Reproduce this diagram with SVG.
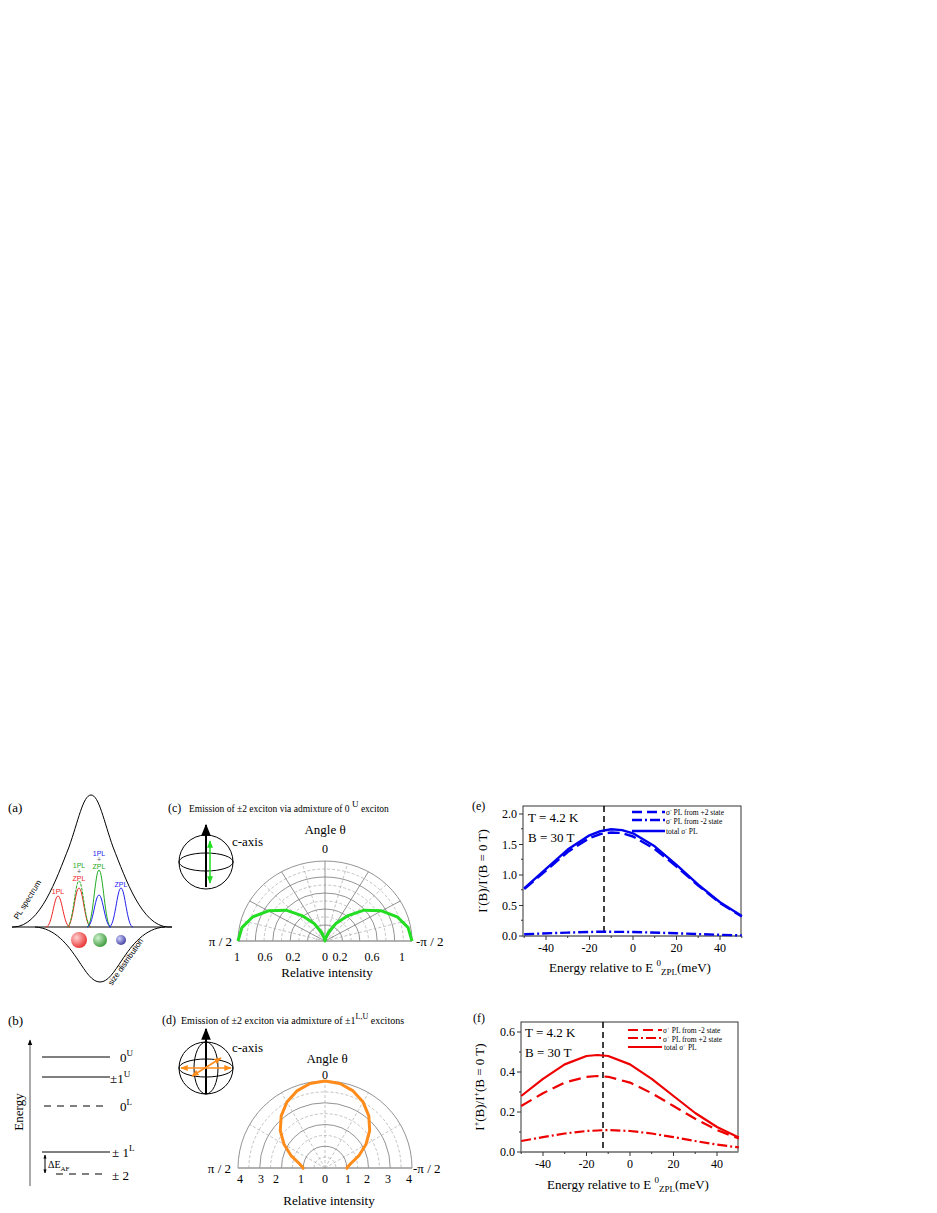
<svg xmlns="http://www.w3.org/2000/svg" width="937" height="1213" viewBox="0 0 937 1213">
<style>
text{font-family:"Liberation Serif","Times New Roman",serif;fill:#000}
.sans{font-family:"Liberation Sans",Arial,sans-serif}
.k{fill:none;stroke:#000;stroke-width:1}
.g{fill:none;stroke:#777;stroke-width:0.8}
.gd{fill:none;stroke:#aaa;stroke-width:0.7;stroke-dasharray:3 2}
.ax{fill:none;stroke:#333;stroke-width:1}
.blue{fill:none;stroke:#0000ee;stroke-width:2.4;stroke-linejoin:round}
.red{fill:none;stroke:#ee0000;stroke-width:2.2;stroke-linejoin:round}
.cr{fill:#ee2222}.cg{fill:#22aa22}.cb{fill:#2222ee}.cx{fill:#555}
</style>
<defs>
<radialGradient id="gr" cx="0.35" cy="0.35" r="0.7"><stop offset="0" stop-color="#ffd0d0"/><stop offset="1" stop-color="#e83030"/></radialGradient>
<radialGradient id="gg" cx="0.35" cy="0.35" r="0.7"><stop offset="0" stop-color="#d0f0d0"/><stop offset="1" stop-color="#3a9a3a"/></radialGradient>
<radialGradient id="gb" cx="0.35" cy="0.35" r="0.7"><stop offset="0" stop-color="#d0d0ff"/><stop offset="1" stop-color="#4040a0"/></radialGradient>
<marker id="ab" viewBox="0 0 10 10" refX="9" refY="5" markerWidth="6" markerHeight="8" orient="auto"><path d="M0,1 L10,5 L0,9z" fill="#000"/></marker>
<marker id="ag" viewBox="0 0 10 10" refX="9" refY="5" markerWidth="5" markerHeight="5" orient="auto-start-reverse"><path d="M0,1 L10,5 L0,9z" fill="#22dd22"/></marker>
<marker id="ao" viewBox="0 0 10 10" refX="9" refY="5" markerWidth="5" markerHeight="5" orient="auto-start-reverse"><path d="M0,1 L10,5 L0,9z" fill="#ff8c1a"/></marker>
<marker id="ak" viewBox="0 0 10 10" refX="9" refY="5" markerWidth="4" markerHeight="4" orient="auto-start-reverse"><path d="M0,1 L10,5 L0,9z" fill="#000"/></marker>
</defs>

<g id="panel-a">
<text x="8" y="812" font-size="13">(a)</text>
<path class="k" d="M12,927 L14,927 C40,926 56,880 69,847 C78,822 83,795 91,795 C99,795 104,822 113,847 C126,880 142,926 168,927 L172,927"/>
<path class="k" d="M35,927 C55,928 68,945 78,960 C86,972 92,982 100,982 C108,982 114,972 122,960 C132,945 145,928 165,927"/>
<line class="k" x1="12" y1="927" x2="172" y2="927"/>
<path d="M46,927 C52,927 54,896 58,896 C62,896 64,927 70,927" fill="none" stroke="#ee2222"/>
<path d="M67,927 C73,927 75,888 79,888 C83,888 85,927 91,927" fill="none" stroke="#ee2222"/>
<path d="M67,927 C73,927 75,881 79,881 C83,881 85,927 91,927" fill="none" stroke="#22aa22" stroke-dasharray="3 1"/>
<path d="M87,927 C93,927 95,870 99,870 C103,870 105,927 111,927" fill="none" stroke="#22aa22"/>
<path d="M87,927 C93,927 95,895 99,895 C103,895 105,927 111,927" fill="none" stroke="#2222ee"/>
<path d="M109,927 C115,927 117,888 121,888 C125,888 127,927 133,927" fill="none" stroke="#2222ee"/>
<g font-size="7" text-anchor="middle">
<text x="58" y="894" class="sans cr">1PL</text>
<text x="79" y="868" class="sans cg">1PL</text>
<text x="79" y="874" class="sans cx">+</text>
<text x="79" y="881" class="sans cr">ZPL</text>
<text x="99" y="856" class="sans cb">1PL</text>
<text x="99" y="862" class="sans cx">+</text>
<text x="99" y="869" class="sans cg">ZPL</text>
<text x="121" y="887" class="sans cb">ZPL</text>
</g>
<text class="sans" font-size="8" transform="translate(18,920) rotate(-58)">PL spectrum</text>
<text class="sans" font-size="8" transform="translate(112,986) rotate(-55)">size distribution</text>
<circle cx="79" cy="940" r="8" fill="url(#gr)"/>
<circle cx="100" cy="940" r="7" fill="url(#gg)"/>
<circle cx="121" cy="940" r="5" fill="url(#gb)"/>
</g>

<g id="panel-b">
<text x="8" y="1025" font-size="13">(b)</text>
<line x1="30" y1="1186" x2="30" y2="1040" stroke="#555" marker-end="url(#ab)"/>
<text transform="translate(23,1112) rotate(-90)" font-size="13" text-anchor="middle">Energy</text>
<line class="k" x1="42" y1="1057" x2="110" y2="1057" stroke-width="1.3"/>
<line class="k" x1="42" y1="1077" x2="110" y2="1077" stroke-width="1.3"/>
<line class="k" x1="44" y1="1106" x2="108" y2="1106" stroke-width="1.3" stroke-dasharray="7 6"/>
<line class="k" x1="42" y1="1152" x2="110" y2="1152" stroke-width="1.3"/>
<line class="k" x1="56" y1="1174" x2="108" y2="1174" stroke-width="1.3" stroke-dasharray="7 6"/>
<line class="k" x1="45" y1="1155" x2="45" y2="1173" marker-start="url(#ak)" marker-end="url(#ak)"/>
<text x="48" y="1168" font-size="10">ΔE<tspan font-size="7" dy="3">AF</tspan></text>
<text x="120" y="1062" font-size="13">0<tspan font-size="9" dy="-6">U</tspan></text>
<text x="110" y="1083" font-size="13">±1<tspan font-size="9" dy="-6">U</tspan></text>
<text x="120" y="1111" font-size="13">0<tspan font-size="9" dy="-6">L</tspan></text>
<text x="112" y="1157" font-size="13">± 1<tspan font-size="9" dy="-6">L</tspan></text>
<text x="112" y="1180" font-size="13">± 2</text>
</g>

<g id="panel-c">
<text x="168" y="812" font-size="12">(c)</text>
<text x="189" y="812" font-size="9.5">Emission of  ±2 exciton via admixture of 0 <tspan font-size="9" dy="-5">U</tspan><tspan dy="5"> exciton</tspan></text>
<ellipse class="k" cx="206" cy="862" rx="27" ry="27" stroke="#444" stroke-width="0.8"/>
<ellipse class="k" cx="206" cy="862" rx="27" ry="9" stroke="#444" stroke-width="0.8"/>
<line x1="206" y1="887" x2="206" y2="825" stroke="#000" stroke-width="2" marker-end="url(#ab)"/>
<line x1="210" y1="841" x2="210" y2="883" stroke="#22dd22" stroke-width="1.5" marker-start="url(#ag)" marker-end="url(#ag)"/>
<text x="232" y="846" font-size="13">c-axis</text>
<text x="325" y="834" font-size="13" text-anchor="middle">Angle θ</text>
<text x="325" y="853" font-size="12" text-anchor="middle">0</text>
<g>
<path class="gd" d="M316.3,941 A8.7,8 0 0 1 333.7,941 M298.9,941 A26.1,24 0 0 1 351.1,941 M281.5,941 A43.5,40 0 0 1 368.5,941 M264.1,941 A60.9,56 0 0 1 385.9,941 M246.7,941 A78.3,72 0 0 1 403.3,941"/>
<path class="g" d="M307.6,941 A17.4,16 0 0 1 342.4,941 M290.2,941 A34.8,32 0 0 1 359.8,941 M272.8,941 A52.2,48 0 0 1 377.2,941 M255.4,941 A69.6,64 0 0 1 394.6,941 M238,941 A87,80 0 0 1 412,941"/>
<path class="g" d="M325,941 L249.7,901 M325,941 L281.5,871.7 M325,941 L325,861 M325,941 L368.5,871.7 M325,941 L400.3,901"/>
<path class="gd" d="M325,941 L241,920.3 M325,941 L263.5,884.4 M325,941 L302.5,863.7 M325,941 L347.5,863.7 M325,941 L386.5,884.4 M325,941 L409,920.3"/>
<line x1="238" y1="941" x2="412" y2="941" stroke="#999" stroke-width="1.5"/>
</g>
<polyline fill="none" stroke="#22dd22" stroke-width="3" stroke-linejoin="round" points="238,941 241.9,927.6 252.8,916.8 268.5,910.8 285.9,910.2 301.9,915.6 314.1,923.6 321.5,932.2 324.5,938.6 325,941 325.5,938.6 328.5,932.2 335.9,923.6 348.1,915.6 364.1,910.2 381.5,910.8 397.2,916.8 408.1,927.6 412,941"/>
<text x="232" y="946" font-size="13" text-anchor="end">π / 2</text>
<text x="416" y="946" font-size="13">-π / 2</text>
<g font-size="12" text-anchor="middle">
<text x="237" y="961">1</text><text x="265" y="961">0.6</text><text x="293" y="961">0.2</text><text x="325" y="961">0</text><text x="340" y="961">0.2</text><text x="372" y="961">0.6</text><text x="402" y="961">1</text>
</g>
<text x="327" y="977" font-size="13" text-anchor="middle">Relative intensity</text>
</g>

<g id="panel-d">
<text x="162" y="1024" font-size="12">(d)</text>
<text x="181" y="1024" font-size="10">Emission of  ±2 exciton via admixture of   ±1<tspan font-size="8" dy="-5">L,U</tspan><tspan dy="5"> excitons</tspan></text>
<ellipse class="k" cx="206" cy="1068" rx="27" ry="26" stroke="#444" stroke-width="0.8"/>
<ellipse class="k" cx="206" cy="1068" rx="27" ry="9" stroke="#444" stroke-width="0.8"/>
<ellipse class="k" cx="206" cy="1068" rx="12" ry="26" stroke="#444" stroke-width="0.8"/>
<line x1="206" y1="1094" x2="206" y2="1029" stroke="#000" stroke-width="2" marker-end="url(#ab)"/>
<line x1="181" y1="1068" x2="231" y2="1068" stroke="#ff8c1a" stroke-width="1.5" marker-start="url(#ao)" marker-end="url(#ao)"/>
<line x1="192" y1="1076" x2="221" y2="1058" stroke="#ff8c1a" stroke-width="1.5" marker-start="url(#ao)" marker-end="url(#ao)"/>
<text x="232" y="1052" font-size="13">c-axis</text>
<text x="327" y="1063" font-size="13" text-anchor="middle">Angle θ</text>
<text x="325" y="1079" font-size="12" text-anchor="middle">0</text>
<path class="gd" d="M314.1,1168 A10.9,10.9 0 0 1 335.9,1168 M292.4,1168 A32.6,32.6 0 0 1 357.6,1168 M270.6,1168 A54.4,54.4 0 0 1 379.4,1168 M248.9,1168 A76.1,76.1 0 0 1 401.1,1168"/>
<path class="g" d="M303.25,1168 A21.75,21.75 0 0 1 346.75,1168 M281.5,1168 A43.5,43.5 0 0 1 368.5,1168 M259.75,1168 A65.25,65.25 0 0 1 390.25,1168 M238,1168 A87,87 0 0 1 412,1168"/>
<path class="gd" d="M325,1168 L249.7,1124.5 M325,1168 L281.5,1092.7 M325,1168 L325,1081 M325,1168 L368.5,1092.7 M325,1168 L400.3,1124.5"/>
<line x1="238" y1="1168" x2="412" y2="1168" stroke="#999" stroke-width="1.5"/>
<polyline fill="none" stroke="#ff8c1a" stroke-width="3" stroke-linejoin="round" points="302,1169 303.25,1168 299.2,1163.5 291.1,1155.7 284,1144.3 280.3,1130.5 281.2,1115.8 286.9,1102.1 296.9,1090.9 310.1,1083.5 325,1081 339.9,1083.5 353.1,1090.9 363.1,1102.1 368.8,1115.8 369.7,1130.5 366,1144.3 358.9,1155.7 350.8,1163.5 346.75,1168 348,1169"/>
<text x="231" y="1173" font-size="13" text-anchor="end">π / 2</text>
<text x="413" y="1173" font-size="13">-π / 2</text>
<g font-size="12" text-anchor="middle">
<text x="240" y="1183">4</text><text x="261" y="1183">3</text><text x="276" y="1183">2</text><text x="301" y="1183">1</text><text x="325" y="1183">0</text><text x="348" y="1183">1</text><text x="367" y="1183">2</text><text x="388" y="1183">3</text><text x="409" y="1183">4</text>
</g>
<text x="329" y="1205" font-size="13" text-anchor="middle">Relative intensity</text>
</g>

<g id="panel-e">
<text x="472" y="810" font-size="12">(e)</text>
<rect x="523" y="806" width="218" height="130" fill="none" stroke="#333"/>
<line x1="523" y1="936" x2="741" y2="936" stroke="#888" stroke-width="1.5"/>
<path class="ax" d="M523,936h-4 M523,905.5h-4 M523,875h-4 M523,844.5h-4 M523,814h-4 M523,920.25h-2 M523,889.75h-2 M523,859.25h-2 M523,828.75h-2 M546,936v4 M589.5,936v4 M633,936v4 M676.5,936v4 M720,936v4 M524.2,936v2 M567.7,936v2 M611.2,936v2 M654.7,936v2 M698.2,936v2 M741.8,936v2"/>
<g font-size="12" text-anchor="end">
<text x="517" y="940">0.0</text><text x="517" y="910">0.5</text><text x="517" y="879">1.0</text><text x="517" y="849">1.5</text><text x="517" y="818">2.0</text>
</g>
<g font-size="12" text-anchor="middle">
<text x="546" y="952">-40</text><text x="589.5" y="952">-20</text><text x="633" y="952">0</text><text x="676.5" y="952">20</text><text x="720" y="952">40</text>
</g>
<text x="630" y="972" font-size="13" text-anchor="middle">Energy relative to E <tspan font-size="9" dy="-6">0</tspan><tspan font-size="9" dy="9">ZPL</tspan><tspan dy="-3">(meV)</tspan></text>
<text transform="translate(487,871) rotate(-90)" font-size="13" text-anchor="middle">I<tspan font-size="8" dy="-5">-</tspan><tspan dy="5">(B)/I</tspan><tspan font-size="8" dy="-5">-</tspan><tspan dy="5">(B = 0 T)</tspan></text>
<line x1="604" y1="806" x2="604" y2="936" stroke="#000" stroke-width="1.5" stroke-dasharray="6 4"/>
<polyline class="blue" points="524.2,888.4 546,868.8 567.7,849.6 589.5,835.3 600.4,831.1 611.2,829.3 622.1,830.1 633,833.3 654.7,846.3 676.5,864.8 698.2,884.6 720,902.3 741.8,915.9"/>
<polyline class="blue" stroke-dasharray="12 5" points="524.2,889 546,870.5 567.7,852 589.5,838 600.4,834 611.2,832.5 622.1,833 633,836.5 654.7,849 676.5,866.5 698.2,885.5 720,903 741.8,916.5"/>
<polyline class="blue" stroke-dasharray="10 3 2 3" points="524.2,934.2 567.7,932.6 600.4,931.7 633,932 676.5,933.3 720,934.8 741.8,935.4"/>
<line class="blue" x1="632" y1="812" x2="665" y2="812" stroke-dasharray="10 5"/>
<line class="blue" x1="632" y1="820" x2="665" y2="820" stroke-dasharray="10 3 2 3"/>
<line class="blue" x1="632" y1="831" x2="665" y2="831"/>
<text x="666" y="815" font-size="7.5">σ<tspan font-size="5" dy="-3">-</tspan><tspan dy="3"> PL from +2 state</tspan></text>
<text x="666" y="824" font-size="7.5">σ<tspan font-size="5" dy="-3">-</tspan><tspan dy="3"> PL from -2 state</tspan></text>
<text x="666" y="834" font-size="7.5">total σ<tspan font-size="5" dy="-3">-</tspan><tspan dy="3">  PL</tspan></text>
<text x="528" y="822" font-size="13">T = 4.2 K</text>
<text x="528" y="842" font-size="13">B = 30 T</text>
</g>

<g id="panel-f">
<text x="473" y="1022" font-size="12">(f)</text>
<rect x="521" y="1022" width="217" height="130" fill="none" stroke="#333"/>
<line x1="521" y1="1152" x2="738" y2="1152" stroke="#888" stroke-width="1.5"/>
<path class="ax" d="M521,1152h-4 M521,1112h-4 M521,1072h-4 M521,1032h-4 M521,1132h-2 M521,1092h-2 M521,1052h-2 M543,1152v4 M586.5,1152v4 M630,1152v4 M673.5,1152v4 M717,1152v4 M521.2,1152v2 M564.7,1152v2 M608.2,1152v2 M651.7,1152v2 M695.2,1152v2"/>
<g font-size="12" text-anchor="end">
<text x="515" y="1156">0.0</text><text x="515" y="1116">0.2</text><text x="515" y="1076">0.4</text><text x="515" y="1036">0.6</text>
</g>
<g font-size="12" text-anchor="middle">
<text x="543" y="1168">-40</text><text x="586.5" y="1168">-20</text><text x="630" y="1168">0</text><text x="673.5" y="1168">20</text><text x="717" y="1168">40</text>
</g>
<text x="628" y="1189" font-size="13" text-anchor="middle">Energy relative to E <tspan font-size="9" dy="-6">0</tspan><tspan font-size="9" dy="9">ZPL</tspan><tspan dy="-3">(meV)</tspan></text>
<text transform="translate(484,1087) rotate(-90)" font-size="13" text-anchor="middle">I<tspan font-size="8" dy="-5">+</tspan><tspan dy="5">(B)/I</tspan><tspan font-size="8" dy="-5">+</tspan><tspan dy="5">(B = 0 T)</tspan></text>
<line x1="603" y1="1022" x2="603" y2="1152" stroke="#000" stroke-width="1.5" stroke-dasharray="6 4"/>
<polyline class="red" points="521.2,1096 543,1078.8 564.7,1064.4 586.5,1056 597.4,1055 608.2,1056 630,1064.4 651.7,1078.8 673.5,1096 695.2,1113 717,1127 738.8,1137.4"/>
<polyline class="red" stroke-dasharray="12 6" points="521.2,1106 543,1093.2 564.7,1082.6 586.5,1076.8 597.4,1076 608.2,1076.8 630,1082.6 651.7,1093.2 673.5,1106 695.2,1118.8 717,1130 738.8,1138.6"/>
<polyline class="red" stroke-dasharray="10 3 2 3" points="521.2,1141 543,1137.1 564.7,1133.5 586.5,1131 608.2,1130 630,1131 651.7,1133.5 673.5,1137.1 695.2,1141 717,1144.6 738.8,1147.4"/>
<line class="red" x1="628" y1="1030" x2="662" y2="1030" stroke-dasharray="10 5"/>
<line class="red" x1="628" y1="1038" x2="662" y2="1038" stroke-dasharray="10 3 2 3"/>
<line class="red" x1="628" y1="1047" x2="662" y2="1047"/>
<text x="663" y="1033" font-size="7.5">σ<tspan font-size="5" dy="-3">+</tspan><tspan dy="3"> PL from -2 state</tspan></text>
<text x="663" y="1042" font-size="7.5">σ<tspan font-size="5" dy="-3">+</tspan><tspan dy="3"> PL from +2 state</tspan></text>
<text x="664" y="1050" font-size="7.5">total σ<tspan font-size="5" dy="-3">+</tspan><tspan dy="3"> PL</tspan></text>
<text x="525" y="1037" font-size="13">T = 4.2 K</text>
<text x="525" y="1057" font-size="13">B = 30 T</text>
</g>
</svg>
